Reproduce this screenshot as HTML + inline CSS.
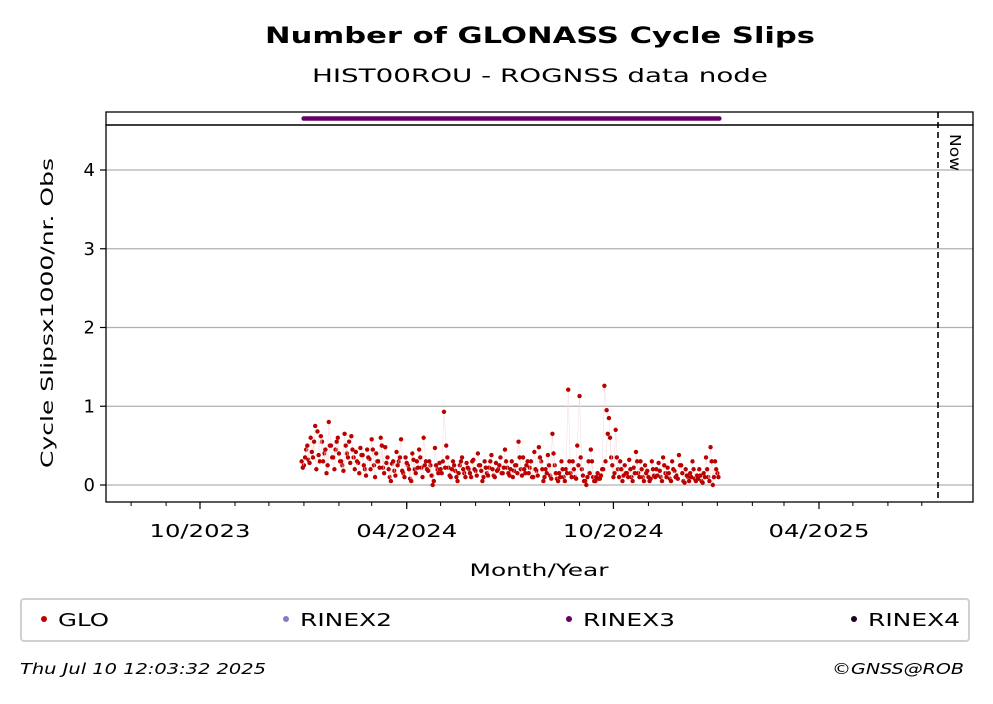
<!DOCTYPE html>
<html><head><meta charset="utf-8"><style>
body{margin:0;background:#fff;}
svg text{font-family:"DejaVu Sans","Liberation Sans",sans-serif;}
</style></head><body>
<svg id="chart" width="993" height="699" viewBox="0 0 993 699" xmlns="http://www.w3.org/2000/svg">
<text x="540" y="43" font-size="22" font-weight="bold" text-anchor="middle" textLength="550" lengthAdjust="spacingAndGlyphs">Number of GLONASS Cycle Slips</text>
<text x="540" y="82" font-size="19" text-anchor="middle" textLength="456" lengthAdjust="spacingAndGlyphs">HIST00ROU - ROGNSS data node</text>
<g id="grid"></g>
<g id="series"></g>
<g id="strip"></g>
<rect x="106" y="112" width="867" height="13" fill="none" stroke="#000" stroke-width="1.3"/>
<rect x="106" y="125" width="867" height="377" fill="none" stroke="#000" stroke-width="1.3"/>
<line x1="938" y1="112" x2="938" y2="502" stroke="#000" stroke-width="1.6" stroke-dasharray="6,4"/>
<text x="950" y="134" font-size="15" transform="rotate(90 950 134)" textLength="37" lengthAdjust="spacingAndGlyphs">Now</text>
<g id="axes"></g>
<text x="539" y="576" font-size="17" text-anchor="middle" textLength="139" lengthAdjust="spacingAndGlyphs">Month/Year</text>
<text x="53" y="313" font-size="17" text-anchor="middle" transform="rotate(-90 53 313)" textLength="310" lengthAdjust="spacingAndGlyphs">Cycle Slipsx1000/nr. Obs</text>
<rect x="21" y="599" width="948" height="42" rx="3" fill="#fff" stroke="#d0d0d0" stroke-width="2"/>
<g><circle cx="44" cy="619" r="3" fill="#c00000"/><text x="58" y="626" font-size="18" textLength="51" lengthAdjust="spacingAndGlyphs">GLO</text></g>
<g><circle cx="286" cy="619" r="3" fill="#8080c0"/><text x="300" y="626" font-size="18" textLength="92" lengthAdjust="spacingAndGlyphs">RINEX2</text></g>
<g><circle cx="569" cy="619" r="3" fill="#660066"/><text x="583" y="626" font-size="18" textLength="92" lengthAdjust="spacingAndGlyphs">RINEX3</text></g>
<g><circle cx="854" cy="619" r="3" fill="#200020"/><text x="868" y="626" font-size="18" textLength="92" lengthAdjust="spacingAndGlyphs">RINEX4</text></g>
<text x="20" y="674" font-size="15" font-style="italic" textLength="246" lengthAdjust="spacingAndGlyphs">Thu Jul 10 12:03:32 2025</text>
<text x="832" y="674" font-size="15" font-style="italic" textLength="132" lengthAdjust="spacingAndGlyphs">©GNSS@ROB</text>
</svg>
<script>
const yTicks=[0,1,2,3,4];
const xTickLabels=["10/2023","04/2024","10/2024","04/2025"];
const xTickDays=[0,183,366,548];
const startDay=90; // days after 2023-10-01
const stepDays=2;
const gloValues=[0.3,0.25,0.45,0.32,0.6,0.35,0.75,0.68,0.3,0.55,0.4,0.15,0.8,0.5,0.35,0.45,0.6,0.3,0.25,0.65,0.4,0.55,0.62,0.35,0.42,0.28,0.47,0.38,0.2,0.45,0.33,0.58,0.25,0.4,0.3,0.6,0.22,0.48,0.35,0.1,0.27,0.18,0.42,0.3,0.58,0.15,0.35,0.25,0.08,0.4,0.2,0.3,0.45,0.22,0.6,0.3,0.18,0.25,0.0,0.47,0.2,0.28,0.15,0.93,0.5,0.22,0.1,0.3,0.18,0.05,0.25,0.35,0.15,0.28,0.2,0.1,0.32,0.18,0.4,0.25,0.05,0.3,0.15,0.22,0.38,0.12,0.28,0.2,0.35,0.15,0.45,0.22,0.12,0.3,0.18,0.25,0.55,0.2,0.35,0.15,0.3,0.22,0.1,0.42,0.18,0.48,0.3,0.05,0.2,0.38,0.12,0.65,0.25,0.08,0.15,0.3,0.1,0.2,1.21,0.15,0.3,0.1,0.5,1.13,0.2,0.05,0.0,0.3,0.45,0.1,0.05,0.15,0.08,0.2,1.26,0.95,0.85,0.35,0.1,0.7,0.2,0.3,0.05,0.25,0.15,0.32,0.1,0.22,0.42,0.15,0.3,0.1,0.25,0.18,0.05,0.3,0.12,0.2,0.28,0.1,0.35,0.15,0.22,0.08,0.3,0.18,0.12,0.38,0.25,0.05,0.2,0.1,0.15,0.3,0.08,0.12,0.2,0.05,0.15,0.35,0.1,0.48,0.0,0.3,0.15];
const gloValues2=[0.22,0.35,0.5,0.28,0.42,0.55,0.2,0.38,0.62,0.3,0.45,0.25,0.5,0.35,0.2,0.55,0.4,0.3,0.18,0.5,0.35,0.28,0.45,0.2,0.3,0.15,0.38,0.25,0.12,0.35,0.2,0.45,0.1,0.3,0.22,0.5,0.15,0.28,0.2,0.05,0.3,0.12,0.25,0.35,0.18,0.1,0.28,0.2,0.05,0.32,0.15,0.22,0.35,0.1,0.25,0.2,0.3,0.12,0.05,0.25,0.15,0.2,0.3,0.22,0.35,0.12,0.2,0.25,0.1,0.15,0.3,0.2,0.1,0.22,0.15,0.3,0.2,0.12,0.25,0.18,0.1,0.22,0.12,0.3,0.2,0.1,0.18,0.25,0.15,0.22,0.3,0.15,0.2,0.1,0.25,0.15,0.35,0.12,0.2,0.25,0.15,0.3,0.1,0.2,0.12,0.35,0.2,0.1,0.15,0.25,0.08,0.4,0.15,0.05,0.1,0.2,0.05,0.15,0.3,0.1,0.2,0.08,0.25,0.35,0.12,0.05,0.1,0.15,0.3,0.05,0.1,0.08,0.12,0.2,0.3,0.65,0.6,0.25,0.15,0.35,0.1,0.2,0.12,0.15,0.1,0.2,0.05,0.15,0.3,0.1,0.2,0.05,0.15,0.1,0.08,0.2,0.1,0.12,0.18,0.05,0.25,0.1,0.15,0.05,0.2,0.1,0.08,0.25,0.15,0.03,0.12,0.05,0.1,0.2,0.05,0.08,0.12,0.03,0.1,0.2,0.05,0.3,0.1,0.2,0.1];
const NS="http://www.w3.org/2000/svg";
const X0=200, pxPerDay=619/548;
function xScale(d){return X0+d*pxPerDay;}
function yScale(v){return 485-v*78.75;}
function mk(tag,attrs,parent){const e=document.createElementNS(NS,tag);for(const k in attrs)e.setAttribute(k,attrs[k]);parent.appendChild(e);return e;}
const grid=document.getElementById('grid'),axes=document.getElementById('axes'),series=document.getElementById('series'),strip=document.getElementById('strip');
yTicks.forEach(t=>{
  const y=yScale(t);
  const gl=mk('line',{x1:106,x2:973,y1:y,y2:y,stroke:'#b0b0b0','stroke-width':1.3},grid);
  
  
  mk('line',{x1:100,x2:106,y1:y,y2:y,stroke:'#000','stroke-width':1.2},axes);
  const tx=mk('text',{x:95,y:y+6,'font-size':18,'text-anchor':'end'},axes);
  tx.textContent=t;
  
  
});
for(let m=-3;m<=21;m++){
  const d=new Date(Date.UTC(2023,9+m,1));const days=(d-Date.UTC(2023,9,1))/864e5;const x=xScale(days);
  if(x<106||x>973)continue;
  mk('line',{x1:x,x2:x,y1:502,y2:506,stroke:'#000','stroke-width':1},axes);
}
xTickLabels.forEach((l,i)=>{
  const x=xScale(xTickDays[i]);
  mk('line',{x1:x,x2:x,y1:502,y2:509,stroke:'#000','stroke-width':1.2},axes);
  const tx=mk('text',{x:x,y:537,'font-size':18,'text-anchor':'middle',textLength:101,lengthAdjust:'spacingAndGlyphs'},axes);
  tx.textContent=l;
  
  
});
function drawSeries(vals,offset){
  let pts=vals.map((v,i)=>[xScale(startDay+offset+i*stepDays),yScale(v)]);
  const pl=mk('polyline',{points:pts.map(p=>p.join(',')).join(' '),fill:'none',stroke:'#f5dada','stroke-width':0.5},series);
  
  
  pts.forEach(p=>{
    const c=mk('circle',{cx:p[0],cy:p[1],r:2.2,fill:'#bb0000'},series);
    
    
  });
}
drawSeries(gloValues,0);
drawSeries(gloValues2,1);
const sx0=xScale(startDay)+2,sx1=xScale(startDay+(gloValues.length-1)*stepDays)+2;
const sl=mk('line',{x1:sx0,x2:sx1,y1:118.5,y2:118.5,stroke:'#660066','stroke-width':4.5,'stroke-linecap':'round'},strip);


</script>
</body></html>
